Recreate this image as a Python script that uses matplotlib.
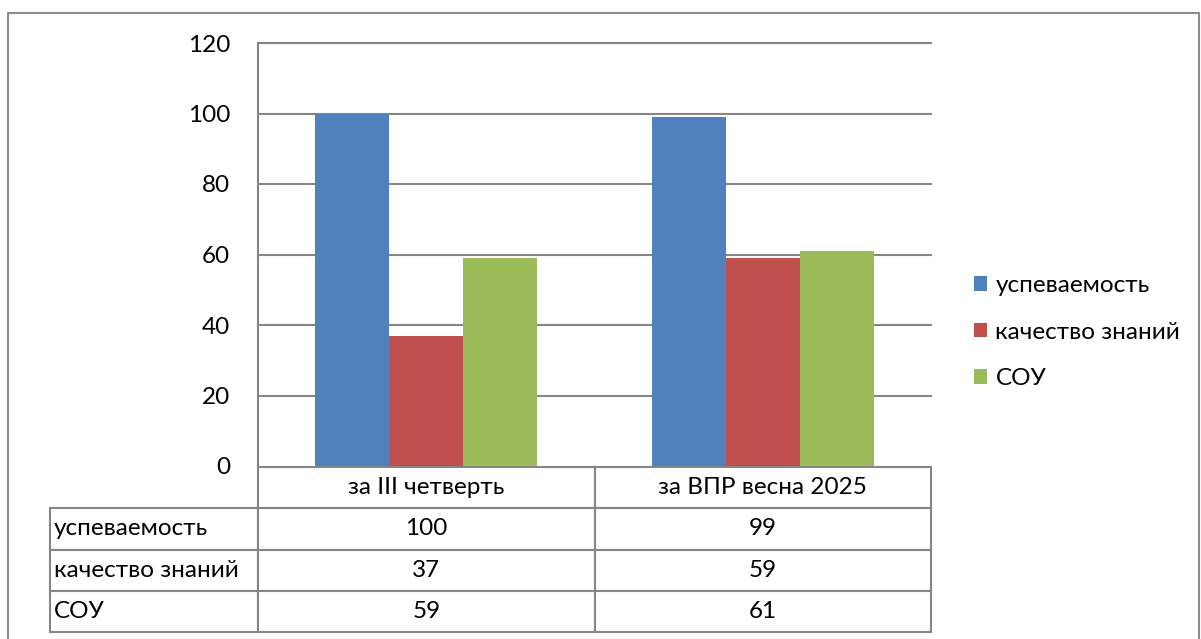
import matplotlib
matplotlib.use("Agg")
import matplotlib.pyplot as plt
from matplotlib.patches import Rectangle

categories = ["за III четверть", "за ВПР весна 2025"]
series_names = ["успеваемость", "качество знаний", "СОУ"]
uspevaemost = [100, 99]
kachestvo = [37, 59]
sou = [59, 61]
y_ticks = [0, 20, 40, 60, 80, 100, 120]

series_values = [uspevaemost, kachestvo, sou]
colors = ["#4F81BD", "#C0504D", "#9BBB59"]
grid_col = "#868686"

plt.rcParams['font.family'] = ['Lato', 'DejaVu Sans']
FS = 17.5

W, H = 1201, 639
fig = plt.figure(figsize=(W / 100, H / 100), dpi=100)

def fx(px):
    return px / W

def fy(py):
    return 1 - py / H

ax_l, ax_r, ax_t, ax_b = 258, 931, 43, 466
ax = fig.add_axes([fx(ax_l), fy(ax_b), fx(ax_r - ax_l), (ax_b - ax_t) / H])

bw = 0.22
offsets = [-bw, 0, bw]
xs = list(range(len(categories)))
for vals, off, c, name in zip(series_values, offsets, colors, series_names):
    ax.bar([x + off for x in xs], vals, width=bw, color=c, label=name, zorder=3)

ax.set_xlim(-0.5, len(categories) - 0.5)
ax.set_ylim(0, 120)
ax.set_yticks(y_ticks)
ax.set_yticklabels([str(t) for t in y_ticks], fontsize=FS)
ax.tick_params(axis='y', length=0, pad=20)
ax.set_xticks([])
for t in y_ticks[1:]:
    ax.axhline(t, color=grid_col, lw=1.5, zorder=1, clip_on=False)
for s in ["top", "right", "bottom"]:
    ax.spines[s].set_visible(False)
ax.spines["left"].set_color(grid_col)
ax.spines["left"].set_linewidth(1.5)

# data table
tab_l, tab_r, tab_t, tab_b = 50, 931, 467, 632
ax_w = ax_r - ax_l
ax_h = ax_b - ax_t
cell_text = [[name] + [str(v) for v in vals] for name, vals in zip(series_names, series_values)]
col_labels = [""] + categories
label_w = ax_l - tab_l
col_ws = [label_w] + [(tab_r - ax_l) / len(categories)] * len(categories)
tbl = ax.table(cellText=cell_text, colLabels=col_labels, colWidths=col_ws,
               cellLoc='center',
               bbox=[(tab_l - ax_l) / ax_w, -(tab_b - ax_b) / ax_h,
                     (tab_r - tab_l) / ax_w, (tab_b - tab_t) / ax_h])
tbl.auto_set_font_size(False)
tbl.set_fontsize(FS)
for (r, c), cell in tbl.get_celld().items():
    cell.set_edgecolor(grid_col)
    cell.set_linewidth(1.5)
    cell.get_text().set_fontsize(FS)
    if r == 0 and c == 0:
        cell.set_visible(False)
    if c == 0 and r > 0:
        cell.get_text().set_horizontalalignment('left')
        cell._loc = 'left'
        cell.PAD = 0.02

# legend
leg = fig.legend(loc='upper left', bbox_to_anchor=(fx(974), fy(275)),
                 frameon=False, fontsize=FS, handlelength=0.55, handleheight=0.55,
                 handletextpad=0.33, labelspacing=1.05, borderpad=0, borderaxespad=0)

# outer chart border
fig.patches.append(Rectangle((fx(8), -0.05), fx(1199 - 8), fy(13) + 0.05,
                             transform=fig.transFigure, fill=False,
                             edgecolor="#8C8C8C", lw=1.5))

fig.savefig("out.png", dpi=100)
